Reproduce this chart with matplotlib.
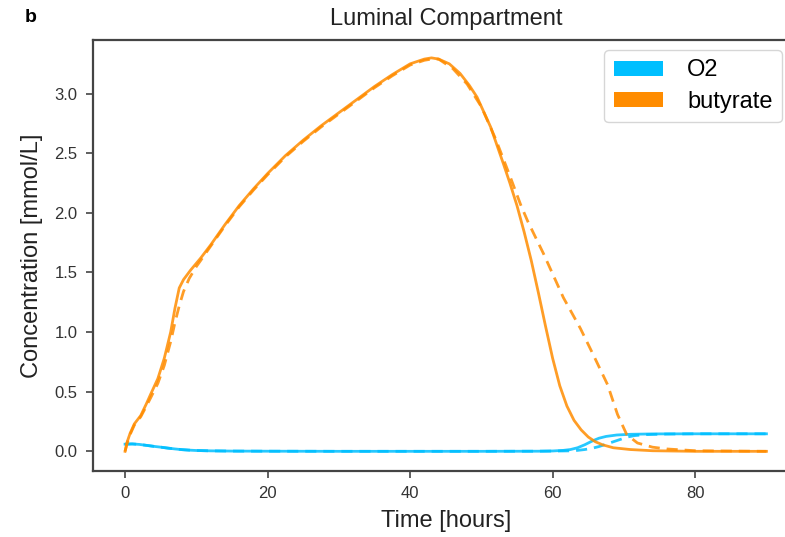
import matplotlib
matplotlib.use("Agg")
import matplotlib.pyplot as plt
from matplotlib.patches import Patch

plt.rcParams['font.family'] = ['Liberation Sans', 'DejaVu Sans']

# ---- data ----
but_t = [0, 0.3, 0.7, 1.3, 2.2, 3, 3.6, 4.6, 5.5, 6.4, 7.0, 7.6, 8.2, 9.2, 10.6, 12, 14, 16, 18, 20,
         22.5, 25, 27.5, 30, 32.5, 35, 37.5, 40, 42, 43, 44, 45.5, 47, 48.3, 49.4, 51.3, 53.1, 54,
         55, 56, 57, 58, 59, 60, 61, 62, 63, 64, 65, 66, 67, 68.5, 70.9, 74, 80, 90]
but_v = [0, 0.08, 0.15, 0.23, 0.30, 0.40, 0.48, 0.61, 0.78, 1.0, 1.2, 1.37, 1.44, 1.52, 1.62, 1.73,
         1.90, 2.06, 2.20, 2.33, 2.48, 2.61, 2.73, 2.84, 2.95, 3.06, 3.16, 3.25, 3.29, 3.30, 3.29,
         3.25, 3.17, 3.07, 2.97, 2.72, 2.41, 2.25, 2.06, 1.84, 1.60, 1.33, 1.05, 0.78, 0.55, 0.38,
         0.26, 0.18, 0.12, 0.08, 0.055, 0.03, 0.015, 0.005, 0.0, 0.0]

but_t_alt = [0, 0.3, 0.7, 1.3, 2.2, 3, 3.6, 4.6, 5.5, 6.4, 7.0, 7.6, 8.2, 9.0, 10, 10.6, 12, 14, 16,
             18, 20, 22.5, 25, 27.5, 30, 32.5, 35, 37.5, 40, 42, 43, 44, 46, 48, 50, 52, 54, 55.5,
             56.5, 58.7, 61.5, 63.9, 65.7, 67.7, 69.1, 70.4, 71.9, 74, 76, 80, 90]
but_v_alt = [0, 0.07, 0.14, 0.22, 0.29, 0.38, 0.45, 0.57, 0.72, 0.92, 1.08, 1.22, 1.34, 1.45, 1.55,
             1.60, 1.72, 1.89, 2.05, 2.19, 2.32, 2.47, 2.60, 2.72, 2.83, 2.94, 3.05, 3.15, 3.24,
             3.28, 3.29, 3.29, 3.21, 3.08, 2.89, 2.62, 2.31, 2.07, 1.93, 1.66, 1.29, 1.03, 0.81,
             0.56, 0.31, 0.14, 0.07, 0.035, 0.02, 0.005, 0.0]

o2_t = [0, 1, 2, 3, 4, 5, 6, 7, 8, 9, 10, 12, 15, 20, 30, 40, 50, 58, 60, 61.5, 62.5, 63.5, 64.5,
        65.5, 66.5, 67.5, 69, 71, 74, 80, 90]
o2_v = [0.06, 0.062, 0.058, 0.05, 0.042, 0.035, 0.027, 0.02, 0.014, 0.01, 0.007, 0.004, 0.002,
        0.001, 0.0, 0.0, 0.0, 0.001, 0.003, 0.008, 0.015, 0.03, 0.055, 0.085, 0.11, 0.125, 0.137,
        0.143, 0.146, 0.147, 0.147]

o2_t_alt = [0, 1, 2, 3, 4, 5, 6, 7, 8, 9, 10, 12, 15, 20, 30, 40, 50, 58, 60, 62.5, 63.5, 64.5,
            65.5, 66.5, 67.5, 68.5, 69.5, 70.5, 71.5, 73, 76, 80, 90]
o2_v_alt = [0.06, 0.062, 0.058, 0.05, 0.042, 0.035, 0.027, 0.02, 0.014, 0.01, 0.007, 0.004, 0.002,
            0.001, 0.0, 0.0, 0.0, 0.001, 0.002, 0.004, 0.008, 0.015, 0.025, 0.04, 0.06, 0.08, 0.10,
            0.12, 0.132, 0.14, 0.145, 0.147, 0.147]

series_names = ["O2", "butyrate"]
series_colors = ["deepskyblue", "darkorange"]

title = "Luminal Compartment"
xlabel = "Time [hours]"
ylabel = "Concentration [mmol/L]"
xticks = [0, 20, 40, 60, 80]
yticks = [0.0, 0.5, 1.0, 1.5, 2.0, 2.5, 3.0]

# ---- figure ----
fig = plt.figure(figsize=(7.85, 5.37), dpi=100)
ax = fig.add_axes([93/785, 66/537, 705.5/785, 431/537])

lw = 2.0
ax.plot(o2_t, o2_v, color=series_colors[0], lw=lw, alpha=0.85)
ax.plot(o2_t_alt, o2_v_alt, color=series_colors[0], lw=lw, alpha=0.85, ls=(0, (4, 2.5)))
ax.plot(but_t, but_v, color=series_colors[1], lw=lw, alpha=0.85)
ax.plot(but_t_alt, but_v_alt, color=series_colors[1], lw=lw, alpha=0.85, ls=(0, (4, 2.5)))

ax.set_xlim(-4.5, 94.5)
ax.set_ylim(-0.165, 3.45)
ax.set_xticks(xticks)
ax.set_yticks(yticks)
ax.set_yticklabels([f"{v:.1f}" for v in yticks])

for s in ax.spines.values():
    s.set_color('#444444')
    s.set_linewidth(1.6)
ax.tick_params(axis='both', labelsize=12, colors='#444444', labelcolor='#333333',
               length=5, width=1.2, pad=6)

ax.set_xlabel(xlabel, fontsize=17, color='#222222', labelpad=6)
ax.set_ylabel(ylabel, fontsize=17, color='#222222', labelpad=8)
ax.set_title(title, fontsize=17, color='#222222', pad=11)

fig.text(25/785, 1 - 17/537, "b", fontsize=14, fontweight='bold', va='center', ha='left')

handles = [Patch(facecolor=c, edgecolor='none') for c in series_colors]
leg = ax.legend(handles, series_names, loc='upper right',
                bbox_to_anchor=(782/785, 1 - 50/537), bbox_transform=fig.transFigure,
                borderaxespad=0.0,
                fontsize=17, frameon=True, fancybox=True, handlelength=2.1,
                handleheight=0.6, borderpad=0.4, labelspacing=0.4, handletextpad=1.0)
leg.get_frame().set_edgecolor('#cccccc')
leg.get_frame().set_linewidth(1.0)

fig.savefig("out.png", dpi=100)
